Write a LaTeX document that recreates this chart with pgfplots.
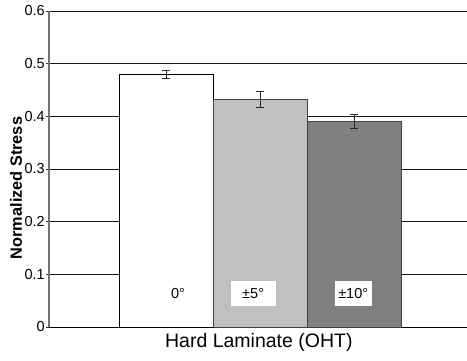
\documentclass[border=0pt]{standalone}
\usepackage{pgfplots}
\pgfplotsset{compat=1.18}
\usepackage{fontspec}
\setmainfont{Liberation Sans}
\definecolor{barB}{HTML}{C0C0C0}
\definecolor{barC}{HTML}{808080}
\begin{document}
\begin{tikzpicture}
\path[use as bounding box] (-49pt,-33pt) rectangle (418pt,327pt);
\begin{axis}[
  scale only axis,
  width=418pt, height=316pt,
  xmin=-1.245, xmax=3.2,
  ymin=0, ymax=0.6,
  ytick={0,0.1,0.2,0.3,0.4,0.5,0.6},
  xtick=\empty,
  axis x line*=bottom,
  axis y line*=left,
  x axis line style={black, line width=0.8pt, -},
  y axis line style={black!55, line width=1.6pt, -},
  ymajorgrids,
  grid style={black!90, line width=0.8pt},
  tick align=outside,
  major tick length=3pt,
  ytick style={black!80, line width=0.8pt},
  /pgf/number format/assume math mode=true,
  yticklabel style={font=\fontsize{14.5}{14.5}\selectfont, text=black, inner sep=0pt, xshift=-1pt},
  ylabel={\textbf{Normalized Stress}},
  ylabel style={font=\fontsize{16.3}{16.3}\selectfont, at={(axis description cs:-0.079,0.44)}, anchor=center},
  xlabel={Hard Laminate (OHT)},
  xlabel style={font=\fontsize{19.5}{19.5}\selectfont, at={(axis description cs:0.502,-0.05)}, anchor=center},
  ybar, bar width=1, bar shift=0pt,
  error bars/y dir=both, error bars/y explicit,
  error bars/error bar style={black!85, line width=0.8pt},
  error bars/error mark options={rotate=90, mark size=3.8pt, black!85, line width=0.8pt},
]
\addplot[fill=white, draw=black, line width=0.8pt] coordinates {(0,0.480) +- (0,0.0075)};
\addplot[fill=barB, draw=black!75, line width=0.8pt] coordinates {(1,0.432) +- (0,0.0145)};
\addplot[fill=barC, draw=black!75, line width=0.8pt] coordinates {(2,0.391) +- (0,0.0135)};
\node[font=\fontsize{14.5}{14.5}\selectfont, inner sep=0pt] at (axis cs:0.128,0.064) {0°};
\node[font=\fontsize{14.5}{14.5}\selectfont, fill=white, minimum width=45pt, minimum height=24.5pt, inner sep=0pt] at (axis cs:0.926,0.064) {±5°};
\node[font=\fontsize{14.5}{14.5}\selectfont, fill=white, minimum width=37pt, minimum height=24.5pt, inner sep=0pt] at (axis cs:1.99,0.064) {±10°};
\end{axis}
\end{tikzpicture}
\end{document}
